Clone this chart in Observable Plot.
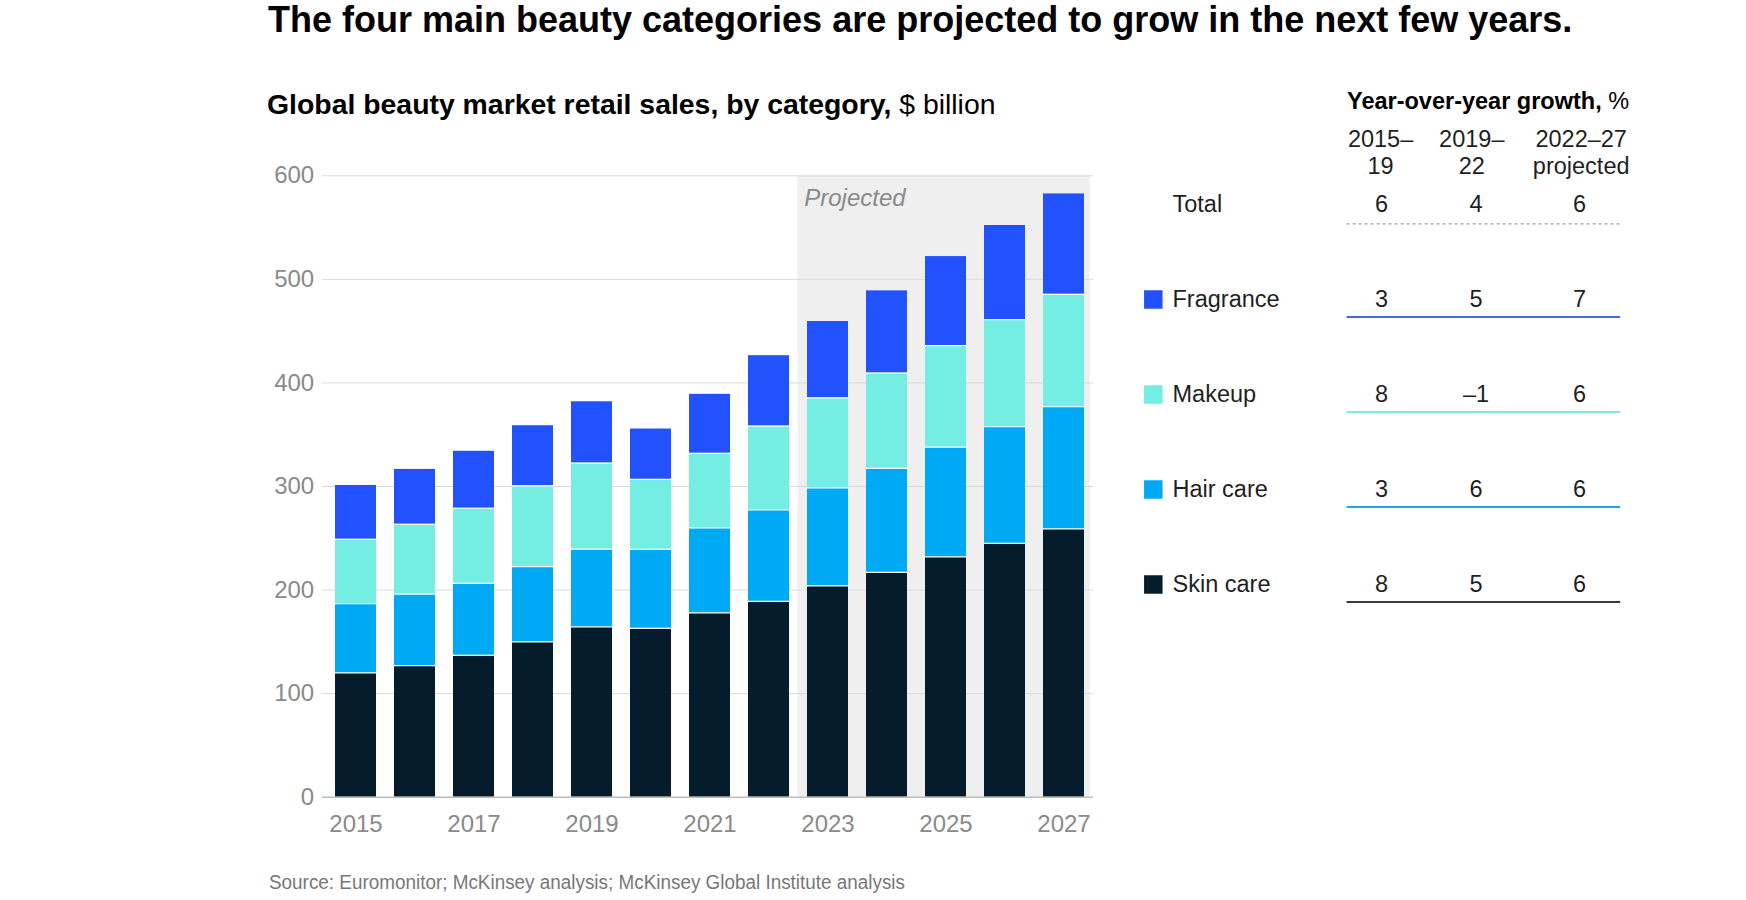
<!DOCTYPE html>
<html>
<head>
<meta charset="utf-8">
<script src="https://cdn.jsdelivr.net/npm/d3@7"></script>
<script src="https://cdn.jsdelivr.net/npm/@observablehq/plot@0.6"></script>
<style>
  html, body { margin: 0; padding: 0; background: #fff; overflow: hidden; }
  #page { position: relative; width: 1746px; height: 900px; overflow: hidden; font-family: "Liberation Sans", Arial, sans-serif; }
  .t { position: absolute; white-space: nowrap; line-height: 1; }
  .layer { position: absolute; left: 0; top: 0; width: 1746px; height: 900px; }
</style>
</head>
<body>
<div id="page">
  <div class="t" id="title" style="left:268px; top:2px; font-size:36px; font-weight:bold; color:#000;">The four main beauty categories are projected to grow in the next few years.</div>
  <div class="t" id="subtitle" style="left:267px; top:89.5px; font-size:28.4px; color:#000;"><b>Global beauty market retail sales, by category,</b> $ billion</div>
  <div class="t" id="tblhead" style="left:1347px; top:90.1px; font-size:23.5px; color:#000;"><b>Year-over-year growth,</b> %</div>
  <div id="colheads"></div>
  <div class="t" id="source" style="left:269px; top:872.4px; font-size:20px; color:#777; transform-origin:0 0;">Source: Euromonitor; McKinsey analysis; McKinsey Global Institute analysis</div>
  <div class="layer" id="chart"></div>
  <div class="layer" id="table"></div>
</div>
<script>
// ---------- Data ----------
const years = ["2015","2016","2017","2018","2019","2020","2021","2022","2023","2024","2025","2026","2027"];
const skinCare  = [120, 127, 137, 150, 164.5, 163, 178, 189, 204, 217, 232, 245, 259];
const hairCare  = [67, 69, 69.5, 72.7, 75, 76.3, 82, 88.3, 94.6, 100.5, 106, 112.7, 118];
const makeup    = [62, 67.5, 72.5, 78, 83, 67.5, 72, 81, 87, 92, 98, 103.3, 108.5];
const fragrance = [52, 53, 55, 58, 59.3, 48.7, 57, 68, 73.7, 79.4, 86, 91, 97];
const categories = ["Skin care", "Hair care", "Makeup", "Fragrance"];
const projectedYears = ["2023","2024","2025","2026","2027"];
const yTicks = [0, 100, 200, 300, 400, 500, 600];
const xTickLabels = ["2015","2017","2019","2021","2023","2025","2027"];

const growthRows = ["Total", "Fragrance", "Makeup", "Hair care", "Skin care"];
const growthCols = ["2015–19", "2019–22", "2022–27 projected"];
const growth2015to19 = [6, 3, 8, 3, 8];
const growth2019to22 = [4, 5, -1, 6, 5];
const growth2022to27 = [6, 7, 6, 6, 6];
const colHeaderLines = [["2015–", "19"], ["2019–", "22"], ["2022–27", "projected"]];

// ---------- Styles ----------
const categoryColors = ["#051C2C", "#00A9F4", "#74EDE3", "#2251FF"];
const underlineColors = {"Fragrance": "#4068F2", "Makeup": "#7FE6EC", "Hair care": "#1EA6EA", "Skin care": "#343B42"};
const swatchColors = {"Fragrance": "#2251FF", "Makeup": "#74EDE3", "Hair care": "#00A9F4", "Skin care": "#051C2C"};
const FONT = '"Liberation Sans", Arial, sans-serif';

// ---------- Build tidy data ----------
const series = [skinCare, hairCare, makeup, fragrance];
const sales = [];
years.forEach((yr, i) => {
  series.forEach((s, j) => sales.push({year: yr, category: categories[j], value: s[i]}));
});

const growthSeries = [growth2015to19, growth2019to22, growth2022to27];
const growth = [];
growthRows.forEach((row, i) => {
  growthCols.forEach((col, j) => growth.push({row, col, value: growthSeries[j][i]}));
});
const fmt = v => (v < 0 ? "–" + Math.abs(v) : String(v));

// ---------- Main chart ----------
const chart = Plot.plot({
  width: 1746,
  height: 900,
  marginLeft: 321.7,
  marginRight: 1746 - 1093,
  marginTop: 175.3,
  marginBottom: 900 - 796.7,
  style: {fontFamily: FONT, fontSize: "24px", color: "#8a8a8a", background: "none", overflow: "visible"},
  x: {domain: years, range: [332.7, 1087.3], paddingInner: 0.3, paddingOuter: 0, ticks: xTickLabels, tickSize: 0, tickPadding: 18, label: null},
  y: {domain: [0, 600], ticks: yTicks, tickSize: 0, tickPadding: 8, label: null},
  color: {domain: categories, range: categoryColors},
  marks: [
    Plot.barY(projectedYears.slice(0, -1), {x: d => d, y1: 0, y2: 600, fill: "#efefef", insetLeft: -9.5, insetRight: -9.5}),
    Plot.barY(projectedYears.slice(-1), {x: d => d, y1: 0, y2: 600, fill: "#efefef", insetLeft: -9.5, insetRight: -5.7}),
    Plot.ruleY(yTicks.slice(1), {stroke: "#dadada", strokeWidth: 1}),
    Plot.barY(sales, {x: "year", y: "value", fill: "category", z: "category"}),
    Plot.tickY(sales, Plot.stackY2({x: "year", y: "value", z: "category", stroke: "#ffffff", strokeWidth: 1.2,
      strokeOpacity: d => (d.category === "Fragrance" ? 0 : 1)})),
    Plot.ruleY([0], {stroke: "#bcbcbc", strokeWidth: 1.5}),
    Plot.text(["Projected"], {x: () => projectedYears[0], y: () => 600, text: d => d, textAnchor: "start",
      dx: -23.8, dy: 23, fontStyle: "italic", fontSize: 24, fill: "#8a8a8a"})
  ]
});
document.getElementById("chart").appendChild(chart);

// ---------- Growth table ----------
const categoryRows = growthRows.slice(1);
const valueText = (col, dx) => Plot.text(growth.filter(d => d.col === col),
  {x: "col", y: "row", text: d => fmt(d.value), fill: "#1f1f1f", fontSize: 23.5, dx});
const table = Plot.plot({
  width: 1746,
  height: 900,
  marginLeft: 1346.6,
  marginRight: 1746 - 1620.2,
  marginTop: 0,
  marginBottom: 0,
  style: {fontFamily: FONT, fontSize: "23.5px", color: "#1f1f1f", background: "none", overflow: "visible"},
  x: {type: "point", domain: growthCols, range: [1380.7, 1579], padding: 0, axis: null},
  y: {type: "point", domain: growthRows, range: [204, 584], padding: 0, axis: null},
  color: {type: "identity"},
  marks: [
    Plot.ruleY(["Total"], {y: d => d, dy: 19.3, stroke: "#9a9a9a", strokeWidth: 1.3, strokeDasharray: "3,3"}),
    Plot.ruleY(categoryRows, {y: d => d, dy: 17.5, stroke: d => underlineColors[d], strokeWidth: 2}),
    Plot.dot(categoryRows, {y: d => d, frameAnchor: "left", dx: -193.8, symbol: "square", r: 10.44, fill: d => swatchColors[d], stroke: null}),
    Plot.text(growthRows, {y: d => d, text: d => d, frameAnchor: "left", dx: -174.6, textAnchor: "start", fill: "#1f1f1f", fontSize: 23.5}),
    valueText(growthCols[0], 0),
    valueText(growthCols[1], -4.5),
    valueText(growthCols[2], 0)
  ]
});
document.getElementById("table").appendChild(table);

// ---------- Column headers ----------
const headCenters = [1380.6, 1471.8, 1581.2];
const ch = document.getElementById("colheads");
colHeaderLines.forEach((lines, i) => {
  const el = document.createElement("div");
  el.className = "t";
  el.style.cssText = `left:${headCenters[i]}px; top:126.3px; font-size:23.5px; line-height:27px; color:#1f1f1f; text-align:center; transform:translateX(-50%);`;
  el.innerHTML = lines.join("<br>");
  ch.appendChild(el);
});

// Fit the condensed source line to its width in the reference
const src = document.getElementById("source");
const w = src.getBoundingClientRect().width;
if (w > 0) src.style.transform = `scaleX(${636 / w})`;
</script>
</body>
</html>
